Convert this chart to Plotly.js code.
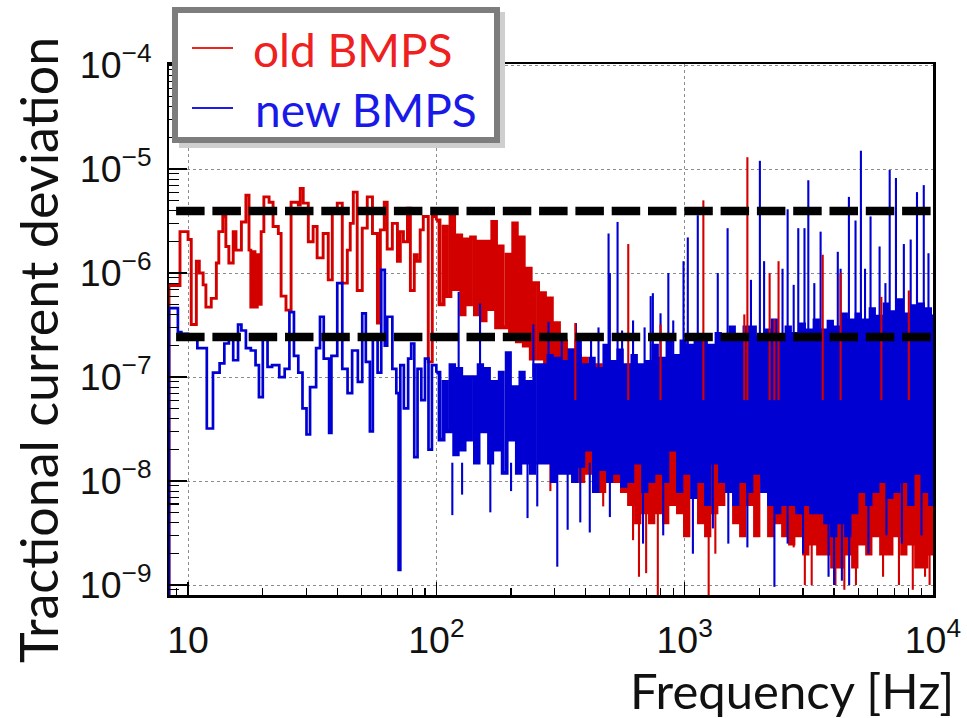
<!DOCTYPE html>
<html><head><meta charset="utf-8">
<script src="https://cdn.plot.ly/plotly-3.0.1.min.js"></script>
<style>html,body{margin:0;padding:0;background:#fff;} #chart{width:967px;height:718px;}</style>
</head><body><div id="chart"></div>
<script>
// ---- data ----
const seriesNames = ['old BMPS', 'new BMPS'];

// below 100 Hz: individual bins (Hz, fractional deviation)
const redLowFreq = [8.38, 8.38, 9.28, 10.0, 10.3, 10.8, 11.1, 11.5, 11.8, 12.4,
  13.0, 13.3, 13.8, 14.2, 14.6, 15.2, 15.6, 16.4, 17.1, 17.6,
  17.9, 18.3, 18.6, 19.0, 19.3, 19.7, 20.2, 21.2, 22.0, 23.1,
  23.7, 24.8, 26.0, 27.8, 28.3, 29.1, 30.5, 31.9, 33.1, 35.0,
  36.7, 38.1, 39.9, 41.8, 43.8, 45.0, 46.3, 48.0, 50.3, 52.7,
  55.3, 57.9, 59.5, 61.7, 63.4, 66.5, 69.7, 71.6, 73.7, 76.5,
  78.6, 81.5, 83.7, 86.1, 88.6, 92.8, 96.3];
const redLowVal = [5e-10, 7.6e-7, 2.5e-6, 2.1e-6, 3.2e-7, 1.3e-6, 1.0e-6, 7.7e-7, 4.7e-7, 5.7e-7,
  1.25e-6, 2.5e-6, 3.5e-6, 1.8e-6, 1.25e-6, 2.5e-6, 1.66e-6, 3.1e-6, 5.6e-6, 1.66e-6,
  4.7e-7, 1.6e-6, 4.7e-7, 1.5e-6, 5e-7, 2.5e-6, 5.4e-6, 4.8e-6, 2.8e-6, 2.4e-6,
  6e-7, 4.4e-7, 4.8e-6, 4.5e-6, 6.5e-6, 4.7e-6, 2e-6, 2.8e-6, 1.4e-6, 2.4e-6,
  8.6e-7, 3.8e-6, 4.7e-6, 8e-7, 1.66e-6, 3e-6, 6e-6, 6.8e-7, 2.7e-6, 5.4e-6,
  2.4e-6, 3.3e-7, 2.6e-6, 4.8e-6, 1.7e-6, 3e-6, 1.3e-6, 2.5e-6, 2e-6, 4.2e-6,
  6.8e-7, 1.5e-6, 1.3e-6, 2.6e-6, 3.5e-6, 1.4e-7, 3.5e-6];

const blueLowFreq = [8.38, 8.38, 9.1, 9.4, 10.0, 10.9, 11.9, 12.6, 13.4, 14.0,
  14.6, 15.2, 15.9, 16.4, 17.1, 17.9, 18.7, 19.3, 20.0, 20.9,
  21.8, 23.3, 24.5, 25.6, 26.7, 27.8, 28.9, 30.0, 31.0, 32.8,
  34.0, 35.2, 37.0, 37.8, 39.9, 41.8, 43.9, 45.8, 48.3, 50.3,
  52.0, 54.0, 55.5, 58.0, 60.0, 62.0, 63.4, 66.5, 69.0, 70.5,
  71.6, 74.0, 77.0, 79.2, 81.5, 84.0, 87.0, 90.0, 93.0, 96.0];
const blueLowVal = [5e-10, 4.6e-7, 2.7e-7, 2.6e-7, 2.4e-7, 1.9e-7, 3.2e-8, 1.1e-7, 1.35e-7, 2.1e-7,
  2.4e-7, 1.45e-7, 3.2e-7, 2.8e-7, 1.9e-7, 1.8e-7, 1.3e-7, 6.4e-8, 2.4e-7, 1.25e-7,
  1.3e-7, 1.0e-7, 1.2e-7, 4.2e-7, 1.6e-7, 1.1e-7, 5e-8, 2.8e-8, 8e-8, 1.9e-7,
  3.8e-7, 1.5e-7, 2.9e-8, 1.6e-7, 8e-7, 1.2e-7, 7e-8, 1.8e-7, 9e-8, 4.1e-7,
  1.4e-7, 3e-8, 2.3e-7, 1.1e-7, 1.07e-6, 2e-7, 3.8e-7, 1.2e-7, 7e-8, 1.4e-9,
  1.3e-7, 5e-8, 1.5e-7, 2.1e-7, 1.7e-8, 1.2e-7, 6e-8, 1.5e-7, 2e-8, 1.3e-7];

// above 100 Hz: dense noise band, sampled frequencies with alternating upper / lower edge values
const gridFreq = [100, 103, 107, 110, 114, 118, 122, 126, 130, 134,
  138, 143, 148, 153, 158, 163, 168, 174, 180, 185,
  192, 198, 204, 211, 218, 225, 233, 240, 248, 257,
  265, 274, 283, 292, 302, 312, 322, 333, 344, 355,
  367, 379, 391, 404, 418, 431, 446, 460, 475, 491,
  507, 524, 541, 559, 578, 597, 616, 637, 658, 680,
  702, 725, 749, 774, 799, 826, 853, 881, 910, 940,
  971, 1003, 1036, 1071, 1106, 1142, 1180, 1219, 1259, 1301,
  1344, 1388, 1434, 1481, 1530, 1581, 1633, 1687, 1742, 1800,
  1859, 1921, 1984, 2050, 2117, 2187, 2259, 2334, 2411, 2491,
  2573, 2658, 2746, 2836, 2930, 3027, 3127, 3230, 3336, 3447,
  3560, 3678, 3799, 3925, 4054, 4188, 4326, 4469, 4617, 4769,
  4927, 5089, 5257, 5431, 5610, 5795, 5987, 6184, 6388, 6599,
  6817, 7042, 7275, 7515, 7763, 8019, 8284, 8557, 8840, 9132,
  9433, 9745, 10000];
const redBandVal = [3.2e-6, 5e-7, 2.8e-6, 6e-7, 3.5e-6, 7e-7, 2.3e-6, 4e-7, 2.1e-6, 5e-7,
  2.2e-6, 4e-7, 2e-6, 3.5e-7, 2e-6, 4.5e-7, 3.1e-6, 3e-7, 1.8e-6, 3e-7,
  1.5e-6, 2.5e-7, 3e-6, 2.2e-7, 2.2e-6, 2e-7, 1.1e-6, 1.5e-7, 8e-7, 1.5e-7,
  6.4e-7, 1.3e-7, 5.7e-7, 9e-8, 3.3e-7, 5e-8, 2.2e-7, 3e-8, 1.8e-7, 1.5e-8,
  1.6e-7, 1e-8, 1.5e-7, 1.2e-8, 1.3e-7, 1.5e-8, 1.3e-7, 8e-9, 1.2e-7, 1.2e-8,
  1.1e-7, 1e-8, 1.1e-7, 8e-9, 1e-7, 6e-9, 9e-8, 4e-9, 1e-7, 5e-9,
  9e-8, 4e-9, 1e-7, 5e-9, 1.2e-7, 4e-9, 9e-8, 6e-9, 9e-8, 5e-9,
  8e-8, 3e-9, 1e-7, 1.2e-8, 9e-8, 4e-9, 1e-7, 3e-9, 8e-8, 5e-9,
  8e-8, 6e-9, 8e-8, 1.2e-8, 9e-8, 4e-9, 8e-8, 3e-9, 1e-7, 6e-9,
  8e-8, 3e-9, 9e-8, 1e-8, 8e-8, 3e-9, 1e-7, 4e-9, 9e-8, 3e-9,
  8e-8, 2.5e-9, 9e-8, 3e-9, 8e-8, 2e-9, 8e-8, 2.5e-9, 1e-7, 2e-9,
  8e-8, 2e-9, 9e-8, 1.5e-9, 8e-8, 1.5e-9, 1e-7, 2e-9, 8e-8, 1.5e-9,
  9e-8, 2.5e-9, 8e-8, 2e-9, 8e-8, 3e-9, 1e-7, 2e-9, 8e-8, 2e-9,
  8e-8, 3e-9, 9e-8, 2e-9, 8e-8, 2.5e-9, 8e-8, 1.5e-9, 8e-8, 1.5e-9,
  8e-8, 2e-9, 6e-8];
const blueBandVal = [1.1e-7, 2.5e-8, 9e-8, 3e-8, 1.3e-7, 1.8e-8, 1.2e-7, 2e-8, 1e-7, 2.5e-8,
  1e-7, 1.5e-8, 1.3e-7, 3e-8, 1.2e-7, 1.5e-8, 9e-8, 2e-8, 1.1e-7, 1.2e-8,
  1.7e-7, 2.5e-8, 8e-8, 1.2e-8, 1.1e-7, 1.5e-8, 9e-8, 1.2e-8, 1.3e-7, 1.5e-8,
  1.3e-7, 1.5e-8, 1.6e-7, 1e-8, 1.5e-7, 1.2e-8, 1.4e-7, 1.2e-8, 1.8e-7, 1e-8,
  2.2e-7, 1.4e-8, 1.3e-7, 2e-8, 1.5e-7, 8e-9, 1.2e-7, 1.3e-8, 2e-7, 1e-8,
  1.4e-7, 1.2e-8, 1.8e-7, 9e-9, 1.3e-7, 1e-8, 1.6e-7, 1.5e-8, 1.3e-7, 8e-9,
  1.4e-7, 1e-8, 2e-7, 1.2e-8, 1.5e-7, 1e-8, 2.2e-7, 2e-8, 1.6e-7, 8e-9,
  2.2e-7, 1.2e-8, 2e-7, 7e-9, 2.4e-7, 1e-8, 2.5e-7, 6e-9, 2e-7, 1.5e-8,
  2.6e-7, 1e-8, 2.2e-7, 8e-9, 3e-7, 6e-9, 2.5e-7, 1e-8, 3e-7, 8e-9,
  3e-7, 1.2e-8, 2.4e-7, 8e-9, 2.8e-7, 6e-9, 3.5e-7, 5e-9, 2.5e-7, 6e-9,
  3e-7, 6e-9, 2.6e-7, 5e-9, 3.2e-7, 6e-9, 2.8e-7, 5e-9, 3.5e-7, 5e-9,
  2.8e-7, 4e-9, 3.4e-7, 3e-9, 3e-7, 4e-9, 4e-7, 3e-9, 3.5e-7, 5e-9,
  4e-7, 8e-9, 3.5e-7, 6e-9, 4.5e-7, 8e-9, 3.8e-7, 1e-8, 5e-7, 7e-9,
  4.2e-7, 8e-9, 5.5e-7, 1e-8, 4e-7, 6e-9, 4.8e-7, 1.2e-8, 5e-7, 8e-9,
  4.5e-7, 6e-9, 4e-7];

// isolated narrow peaks and dips sticking out of the band (Hz, value)
const blueSpikeFreq = [123, 150, 246, 283, 320, 365, 420, 450, 494, 500,
  537, 560, 620, 690, 730, 745, 800, 860, 900, 990,
  1030, 1130, 1360, 1490, 1850, 2010, 2090, 2480, 2600, 2750,
  2870, 3040, 3150, 3330, 3530, 4140, 4250, 4590, 4880, 5130,
  5330, 5610, 6100, 6440, 6700, 7100, 7640, 8140, 8630, 9190, 9600];
const blueSpikeVal = [6.6e-7, 5.1e-7, 3.2e-7, 3.4e-7, 2.5e-7, 3.3e-7, 2.6e-7, 3e-7, 2.4e-6, 1e-6,
  3.1e-6, 2.8e-7, 3.5e-7, 3e-7, 6e-7, 6.4e-7, 4.1e-7, 1e-6, 3.5e-7, 1.3e-6,
  2.2e-6, 3.6e-6, 1e-6, 2.7e-6, 8.6e-7, 1.2e-5, 1.3e-6, 1.1e-6, 4.1e-6, 7.7e-7,
  2.7e-6, 2.7e-6, 7.8e-6, 8e-7, 2.5e-6, 1.6e-6, 1.1e-6, 5.4e-6, 3.2e-6, 1.5e-5,
  1.1e-6, 3.5e-6, 1.8e-6, 8e-7, 9.8e-6, 8.2e-6, 1.9e-6, 2.1e-6, 6e-6, 7e-6, 1.55e-6];
const blueDipFreq = [116, 127, 165, 200, 233, 255, 307, 338, 380, 415,
  500, 680, 820, 1080, 1300, 1500, 1790, 2300, 2600, 3000,
  3800, 4000, 4300, 4600, 5500, 6500, 7500, 9000];
const blueDipVal = [4.7e-9, 7.4e-9, 5e-9, 8e-9, 4.4e-9, 5.7e-9, 1.5e-9, 3.4e-9, 4e-9, 3.2e-9,
  4.5e-9, 2.5e-9, 3e-9, 2e-9, 3.5e-9, 2.5e-9, 2.3e-9, 9.6e-10, 2.5e-9, 2e-9,
  1.2e-9, 1e-9, 1.1e-9, 1e-9, 2e-9, 3e-9, 2.5e-9, 3e-9];
const redSpikeFreq = [363, 593, 800, 1190, 1740, 1790, 2200, 2300, 2390, 3600, 4250, 6200, 8000];
const redSpikeVal = [3.3e-7, 1.9e-6, 3.2e-7, 5e-6, 4e-7, 1.3e-5, 1e-6, 3.6e-7, 1.3e-6, 1.5e-6, 1e-6, 5.9e-7, 6.8e-7];
const redDipFreq = [288, 470, 620, 655, 700, 780, 1250, 1330, 2750, 3050,
  3250, 4050, 4400, 4900, 6300, 7300, 8300, 9300, 9700];
const redDipVal = [8e-9, 5.7e-9, 2.7e-9, 1.2e-9, 1.3e-9, 8e-10, 8e-10, 2e-9, 2.3e-9, 1e-9,
  1e-9, 1e-9, 9e-10, 1e-9, 1.2e-9, 1e-9, 9e-10, 1.2e-9, 1e-9];

// the two dashed reference levels
const limitLevels = [3.95e-6, 2.43e-7];
const limitSpan = [8.95, 9850];

// ---- layout geometry (pixels) ----
const W = 967, H = 718, L = 169, R = 933, T = 64, B = 595;
const px = p => (p - L) / (R - L);
const py = p => (B - p) / (B - T);
const RED = '#d30000', BLUE = '#0000d2';

function lowTrace(f, v, bandVal, color, w) {
  return {x: f.concat([gridFreq[0]]), y: v.concat([bandVal[0]]), mode: 'lines',
          line: {shape: 'hv', color: color, width: w, simplify: false},
          hoverinfo: 'skip', showlegend: false};
}
function bandTrace(bandVal, color) {
  return {x: gridFreq, y: bandVal, mode: 'lines',
          line: {shape: 'hv', color: color, width: 3.8, simplify: false},
          hoverinfo: 'skip', showlegend: false};
}
function spikeTrace(f, v, base, color) {
  const x = [], y = [];
  f.forEach((fr, i) => { x.push(fr, fr, null); y.push(base, v[i], null); });
  return {x: x, y: y, mode: 'lines', line: {color: color, width: 2.1},
          hoverinfo: 'skip', showlegend: false, connectgaps: false};
}
const traces = [
  lowTrace(redLowFreq, redLowVal, redBandVal, RED, 2.9),
  bandTrace(redBandVal, RED),
  spikeTrace(redDipFreq, redDipVal, 2e-8, RED),
  lowTrace(blueLowFreq, blueLowVal, blueBandVal, BLUE, 2.7),
  bandTrace(blueBandVal, BLUE),
  spikeTrace(blueSpikeFreq, blueSpikeVal, 1e-7, BLUE),
  spikeTrace(blueDipFreq, blueDipVal, 1.5e-8, BLUE),
  spikeTrace(redSpikeFreq, redSpikeVal, 6e-8, RED)
];
limitLevels.forEach(v => traces.push({
  x: limitSpan, y: [v, v], mode: 'lines',
  line: {color: '#000', width: 8.5, dash: '28.5px,7.8px'},
  hoverinfo: 'skip', showlegend: false}));

const tickFont = {family: 'Liberation Sans, Arial, sans-serif', size: 30, color: '#111'};
const axisCommon = {
  type: 'log', tickmode: 'linear', tick0: 0, dtick: 1,
  exponentformat: 'power', showexponent: 'all', tickfont: tickFont,
  ticks: 'inside', tickwidth: 1.5, tickcolor: '#000',
  showgrid: true, gridcolor: '#8c8c8c', griddash: 'dot', gridwidth: 1,
  showline: true, linecolor: '#000', linewidth: 2.5, mirror: true, zeroline: false
};
const layout = {
  width: W, height: H, paper_bgcolor: '#fff', plot_bgcolor: '#fff',
  margin: {l: L, r: W - R, t: T, b: H - B, pad: 0},
  showlegend: false,
  xaxis: Object.assign({}, axisCommon, {
    range: [Math.log10(8.38), 4.0005], ticklen: 13, ticklabelstandoff: 12,
    minor: {ticks: 'inside', ticklen: 7, tickwidth: 1.2, tickcolor: '#000', dtick: 'D1', showgrid: false}
  }),
  yaxis: Object.assign({}, axisCommon, {
    range: [-9.096, -3.99], ticklen: 18, ticklabelstandoff: 9,
    minor: {ticks: 'inside', ticklen: 10, tickwidth: 1.2, tickcolor: '#000', dtick: 'D1', showgrid: false}
  }),
  shapes: [
    {type: 'rect', xref: 'paper', yref: 'paper', x0: px(179), x1: px(505), y0: py(12), y1: py(148),
     fillcolor: '#cfcfcf', line: {width: 0}, layer: 'above'},
    {type: 'rect', xref: 'paper', yref: 'paper', x0: px(175), x1: px(497), y0: py(10), y1: py(140),
     fillcolor: '#fff', line: {color: '#7d7d7d', width: 6}, layer: 'above'},
    {type: 'line', xref: 'paper', yref: 'paper', x0: px(192), x1: px(233), y0: py(48), y1: py(48),
     line: {color: '#e8261e', width: 2.2}, layer: 'above'},
    {type: 'line', xref: 'paper', yref: 'paper', x0: px(192), x1: px(233), y0: py(108), y1: py(108),
     line: {color: '#1c1ce8', width: 2.2}, layer: 'above'}
  ],
  annotations: [
    {xref: 'paper', yref: 'paper', x: px(251), y: py(50), xanchor: 'left', yanchor: 'middle',
     text: seriesNames[0], showarrow: false, font: {family: 'Lato, sans-serif', size: 46, color: '#ee2020'}},
    {xref: 'paper', yref: 'paper', x: px(253), y: py(109), xanchor: 'left', yanchor: 'middle',
     text: seriesNames[1], showarrow: false, font: {family: 'Lato, sans-serif', size: 46, color: '#1a1ae8'}},
    {xref: 'paper', yref: 'paper', x: px(38), y: py(350), xanchor: 'center', yanchor: 'middle',
     textangle: -90, text: 'Tractional current deviation', showarrow: false,
     font: {family: 'Lato, sans-serif', size: 52, color: '#111'}},
    {xref: 'paper', yref: 'paper', x: px(955), y: py(690), xanchor: 'right', yanchor: 'middle',
     text: 'Frequency [Hz]', showarrow: false, borderpad: 0,
     font: {family: 'Lato, sans-serif', size: 49, color: '#111'}}
  ]
};
Plotly.newPlot('chart', traces, layout, {displayModeBar: false, staticPlot: true});
</script>
</body></html>
